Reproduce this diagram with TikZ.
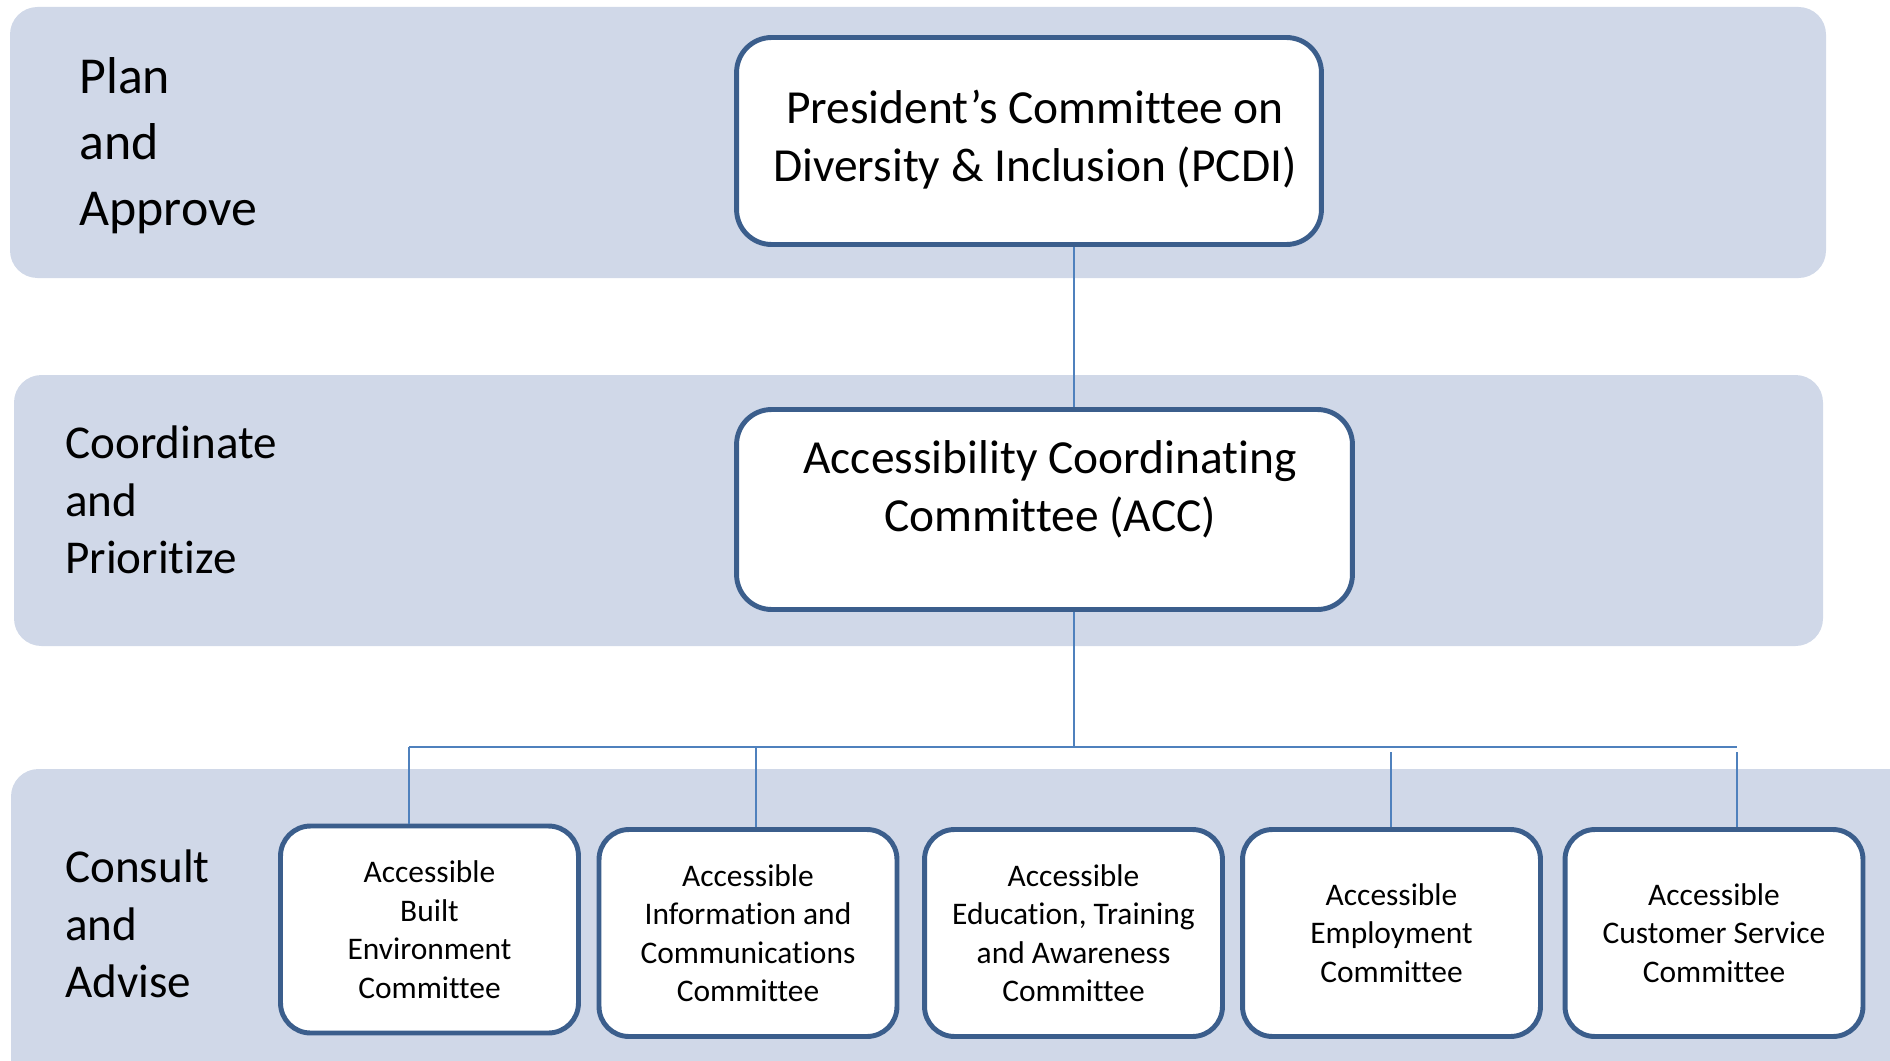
\documentclass[tikz,border=0pt]{standalone}
\usepackage{fontspec}
\setmainfont{Carlito}[Ligatures={NoCommon,NoContextual},RawFeature={-liga;-clig;-calt;-dlig}]
\usepackage{tikz}
\pgfdeclarelayer{background}
\pgfsetlayers{background,main}
\definecolor{bandfill}{RGB}{208,216,232}
\definecolor{boxline}{RGB}{59,94,140}
\definecolor{linkline}{RGB}{79,129,189}

\begin{document}
\begin{tikzpicture}[x=0.02cm,y=-0.02cm,
  band/.style={fill=bandfill,rounded corners=0.55cm},
  bigtext/.style={align=center,font=\fontsize{27}{33}\selectfont},
  bigbox/.style={draw=boxline,line width=2.8pt,fill=white,rounded corners=0.7cm},
  smallbox/.style={draw=boxline,line width=2.8pt,fill=white,rounded corners=0.6cm,align=center,
    minimum width=5.96cm,minimum height=4.14cm,font=\fontsize{17.9}{21.9}\selectfont},
  stage/.style={anchor=west,align=left,inner sep=0pt,font=\fontsize{26.8}{32.9}\selectfont},
  link/.style={draw=linkline,line width=1.1pt}]
  \useasboundingbox (0,0) rectangle (1890,1061);
  \begin{pgfonlayer}{background}
    \fill[band] (10,7) rectangle (1826,278);
    \fill[band] (14,375) rectangle (1823,646);
    \fill[band] (11,769) rectangle (1920,1100);
  \end{pgfonlayer}
  \node[stage,font=\fontsize{29.5}{37.6}\selectfont] (plan) at (79,146) {Plan\\and\\Approve};
  \node[stage] (coord) at (65,500) {Coordinate\\and\\Prioritize};
  \node[stage] (consult) at (65,924) {Consult\\and\\Advise};
  \node[bigbox,minimum width=11.7cm,minimum height=4.14cm] (pcdi) at (1029,141) {};
  \node[bigtext] (pcditext) at (1035,139.5) {President’s Committee on\\Diversity \& Inclusion (PCDI)};
  \node[bigbox,minimum width=12.32cm,minimum height=4.0cm] (acc) at (1044.5,509.5) {};
  \node[bigtext] (acctext) at (1050,489) {Accessibility Coordinating\\Committee (ACC)};
  \node[smallbox] (abe) at (429.5,929.5) {Accessible\\Built\\Environment\\Committee};
  \node[smallbox] (aic) at (748,933) {Accessible\\Information and\\Communications\\Committee};
  \node[smallbox] (aeta) at (1073.5,933) {Accessible\\Education, Training\\and Awareness\\Committee};
  \node[smallbox] (aemp) at (1391.5,933) {Accessible\\Employment\\Committee};
  \node[smallbox] (acs) at (1714,933) {Accessible\\Customer Service\\Committee};
  \coordinate (tap) at (1074,747);
  \coordinate (busl) at (409,747);
  \coordinate (busr) at (1737,747);
  \coordinate (d2) at (756,747);
  \coordinate (d4) at (1391,752);
  \coordinate (d5) at (1737,752);
  \draw[link] (pcdi.south -| tap) -- (acc.north -| tap);
  \draw[link] (acc.south -| tap) -- (tap);
  \draw[link] (busl) -- (busr);
  \draw[link] (busl) -- (abe.north -| busl);
  \draw[link] (d2) -- (aic.north -| d2);
  \draw[link] (d4) -- (aemp.north -| d4);
  \draw[link] (d5) -- (acs.north -| d5);
\end{tikzpicture}
\end{document}
